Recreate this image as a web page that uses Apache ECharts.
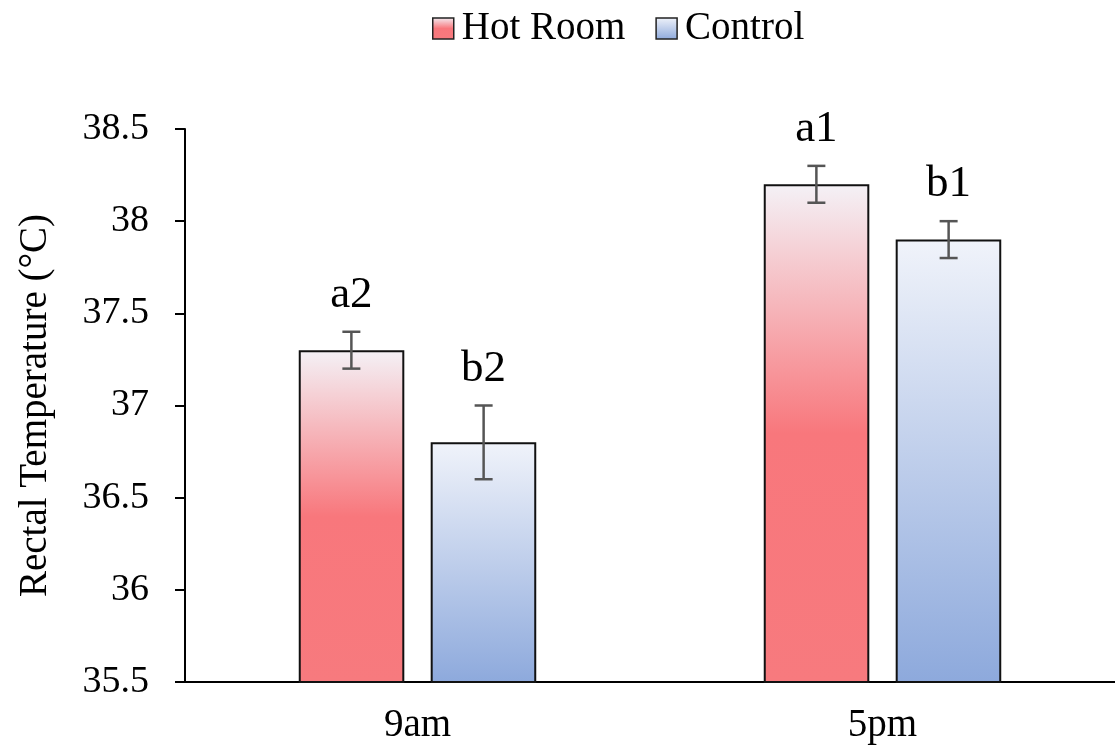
<!DOCTYPE html>
<html>
<head>
<meta charset="utf-8">
<script src="https://cdn.jsdelivr.net/npm/echarts@6/dist/echarts.min.js"></script>
<style>
  html, body { margin: 0; padding: 0; background: #fff; }
  #main { width: 1115px; height: 753px; }
</style>
</head>
<body>
<div id="main"></div>
<script>
// data
var categories = ['9am', '5pm'];
var hotRoom = [37.3, 38.2];
var hotRoomErr = [0.1, 0.1];
var control = [36.8, 37.9];
var controlErr = [0.2, 0.1];
var hotLabels = ['a2', 'a1'];
var controlLabels = ['b2', 'b1'];

var serif = '"Liberation Serif", "DejaVu Serif", serif';

var myChart = echarts.init(document.getElementById('main'));

var hotColor = new echarts.graphic.LinearGradient(0, 0, 0, 1, [
  { offset: 0, color: '#f4f1f6' },
  { offset: 0.5, color: '#f8777c' },
  { offset: 1, color: '#f77a7e' }
]);
var controlColor = new echarts.graphic.LinearGradient(0, 0, 0, 1, [
  { offset: 0, color: '#f0f3fa' },
  { offset: 1, color: '#8da9dc' }
]);

// error bars + letters, shifted onto the matching bar of each pair
function errorSeries(values, errs, labels, side) {
  var d = []
  for (var i = 0; i < values.length; i++) {
    d.push([i, values[i] - errs[i], values[i] + errs[i]])
  }
  return {
    type: 'custom',
    data: d,
    z: 5,
    renderItem: function (params, api) {
      var band = api.size([1, 0])[0];
      var off = side * band * 0.1422;
      var lo = api.coord([api.value(0), api.value(1)]);
      var hi = api.coord([api.value(0), api.value(2)]);
      var x = lo[0] + off;
      var cap = 9;
      var st = { stroke: '#555', lineWidth: 2.5 };
      return {
        type: 'group',
        children: [
          { type: 'line', shape: { x1: x, y1: lo[1], x2: x, y2: hi[1] }, style: st },
          { type: 'line', shape: { x1: x - cap, y1: lo[1], x2: x + cap, y2: lo[1] }, style: st },
          { type: 'line', shape: { x1: x - cap, y1: hi[1], x2: x + cap, y2: hi[1] }, style: st },
          {
            type: 'text',
            style: {
              x: x, y: hi[1] - 14,
              text: labels[params.dataIndex],
              fill: '#000',
              font: '45px ' + serif,
              align: 'center',
              verticalAlign: 'bottom'
            }
          }
        ]
      }
    }
  }
}

var option = {
  animation: false,
  legend: {
    top: 4,
    left: 427,
    icon: 'rect',
    itemWidth: 21,
    itemHeight: 21,
    itemGap: 30,
    data: ['Hot Room', 'Control'],
    itemStyle: { borderColor: '#222', borderWidth: 1.5 },
    textStyle: { fontFamily: serif, fontSize: 39, color: '#000', padding: [2, 0, 0, 3] }
  },
  grid: { left: 185, right: -5, top: 129, bottom: 71 },
  xAxis: {
    type: 'category',
    data: categories,
    axisLine: { lineStyle: { color: '#000', width: 2 } },
    axisTick: { length: 12, lineStyle: { color: '#000', width: 2 } },
    axisLabel: { color: '#000', fontFamily: serif, fontSize: 39, margin: 24 }
  },
  yAxis: {
    type: 'value',
    min: 35.5,
    max: 38.5,
    interval: 0.5,
    name: 'Rectal Temperature (°C)',
    nameLocation: 'middle',
    nameGap: 130,
    nameTextStyle: { color: '#000', fontFamily: serif, fontSize: 39 },
    splitLine: { show: false },
    axisLine: { show: true, lineStyle: { color: '#000', width: 2 } },
    axisTick: { show: true, length: 10, lineStyle: { color: '#000', width: 2 } },
    axisLabel: { color: '#000', fontFamily: serif, fontSize: 38, margin: 36 }
  },
  series: [
    {
      name: 'Hot Room',
      type: 'bar',
      data: hotRoom,
      barWidth: '22.7%',
      barGap: '25%',
      itemStyle: { color: hotColor, borderColor: '#111', borderWidth: 2 }
    },
    {
      name: 'Control',
      type: 'bar',
      data: control,
      barWidth: '22.7%',
      barGap: '25%',
      itemStyle: { color: controlColor, borderColor: '#111', borderWidth: 2 }
    },
    errorSeries(hotRoom, hotRoomErr, hotLabels, -1),
    errorSeries(control, controlErr, controlLabels, 1)
  ]
};
myChart.setOption(option);
</script>
</body>
</html>
